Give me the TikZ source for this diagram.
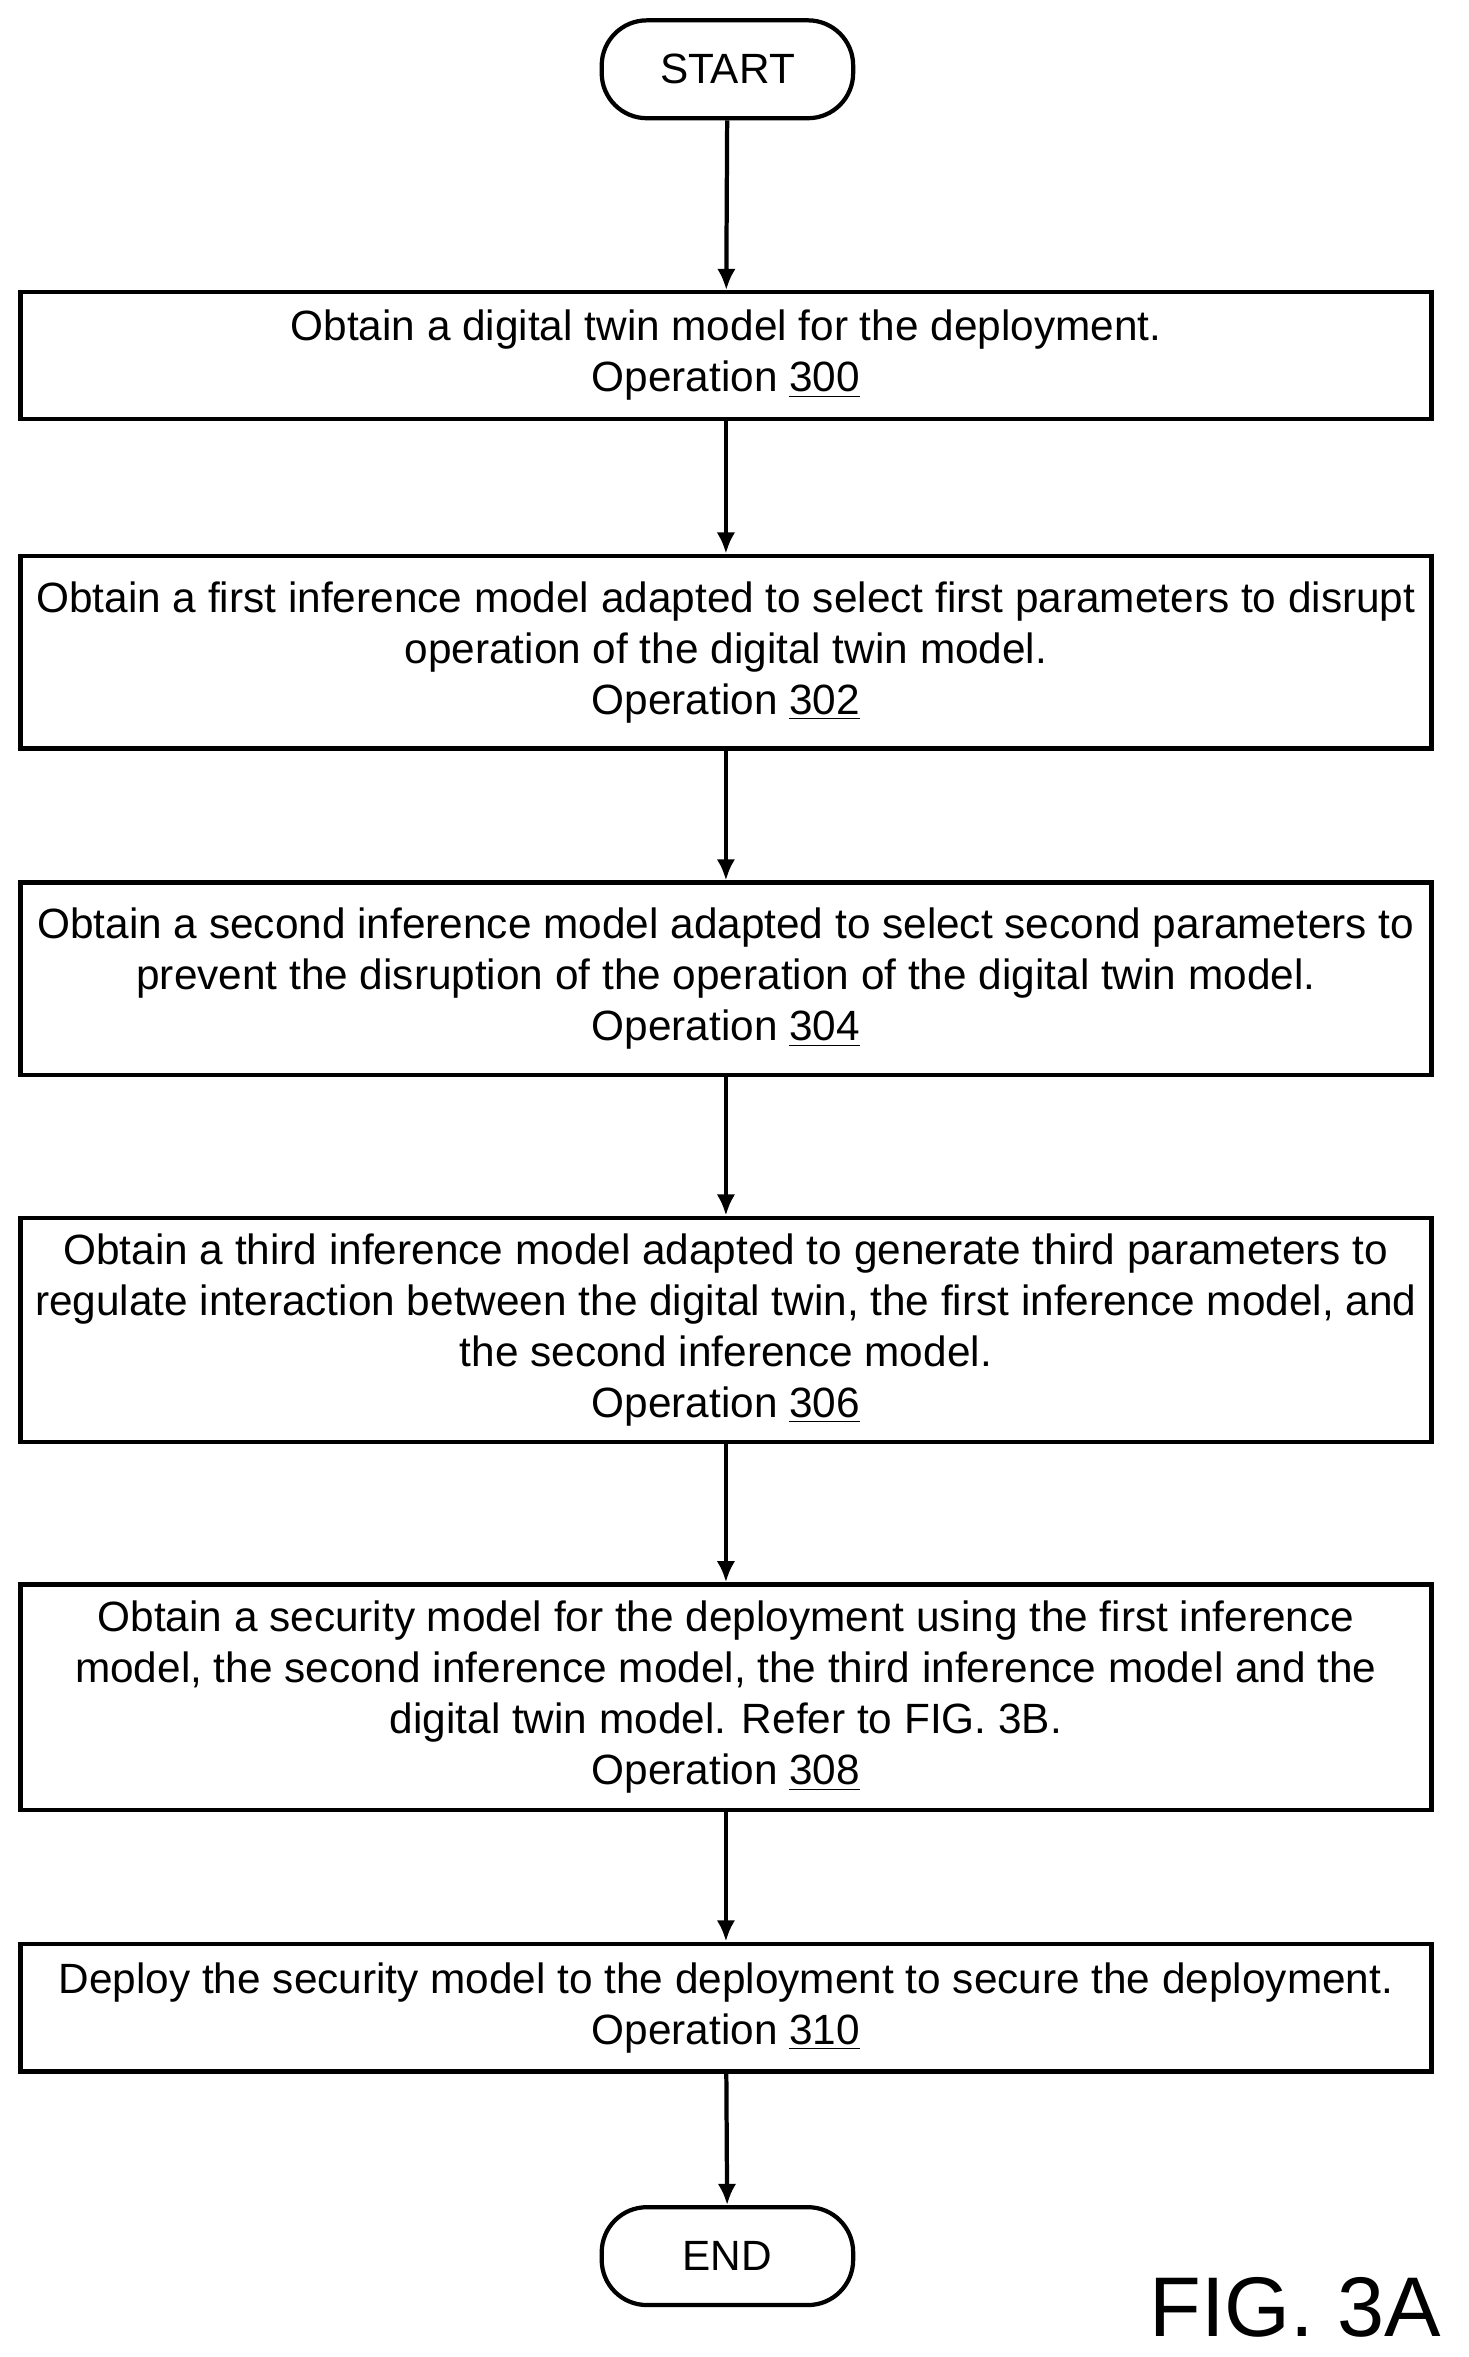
\documentclass[tikz,border=0pt]{standalone}
\usepackage{fontspec}
\setmainfont{Liberation Sans}
\usetikzlibrary{positioning,arrows.meta}
\begin{document}
\begin{tikzpicture}[x=0.02cm,y=-0.02cm,
    opbox/.style={draw,line width=1.6pt,minimum width=18.74cm,align=center,font=\fontsize{16}{19.3}\selectfont},
    term/.style={draw,line width=1.6pt,rounded corners=0.6cm,minimum width=3.34cm,minimum height=1.3cm,font=\fontsize{16}{19.3}\selectfont},
    flow/.style={line width=1.6pt,-{Latex[length=8pt,width=7pt]}}]
    \useasboundingbox (0,0) rectangle (975,1565);
    % terminals
    \node[term] (start) at (483,46) {START};
    \node[term] (end) at (483,1498) {END};
    % operations
    \node[opbox,minimum height=1.68cm] (op300) at (482,236)
        {Obtain a digital twin model for the deployment.\\Operation \underline{300}};
    \node[opbox,minimum height=2.56cm] (op302) at (482,433)
        {Obtain a first inference model adapted to select first parameters to disrupt\\operation of the digital twin model.\\Operation \underline{302}};
    \node[opbox,minimum height=2.56cm] (op304) at (482,650)
        {Obtain a second inference model adapted to select second parameters to\\prevent the disruption of the operation of the digital twin model.\\Operation \underline{304}};
    \node[opbox,minimum height=2.98cm] (op306) at (482,883)
        {Obtain a third inference model adapted to generate third parameters to\\regulate interaction between the digital twin, the first inference model, and\\the second inference model.\\Operation \underline{306}};
    \node[opbox,minimum height=3.0cm] (op308) at (482,1127)
        {Obtain a security model for the deployment using the first inference\\model, the second inference model, the third inference model and the\\digital twin model. Refer to FIG. 3B.\\Operation \underline{308}};
    \node[opbox,minimum height=1.7cm] (op310) at (482,1333)
        {Deploy the security model to the deployment to secure the deployment.\\Operation \underline{310}};
    % connectors
    \draw[flow] (start) -- (op300);
    \draw[flow] (op300) -- (op302);
    \draw[flow] (op302) -- (op304);
    \draw[flow] (op304) -- (op306);
    \draw[flow] (op306) -- (op308);
    \draw[flow] (op308) -- (op310);
    \draw[flow] (op310) -- (end);
    % figure label
    \node[font=\fontsize{32}{36}\selectfont,anchor=east] (fig) at (963,1532) {FIG. 3A};
\end{tikzpicture}
\end{document}
